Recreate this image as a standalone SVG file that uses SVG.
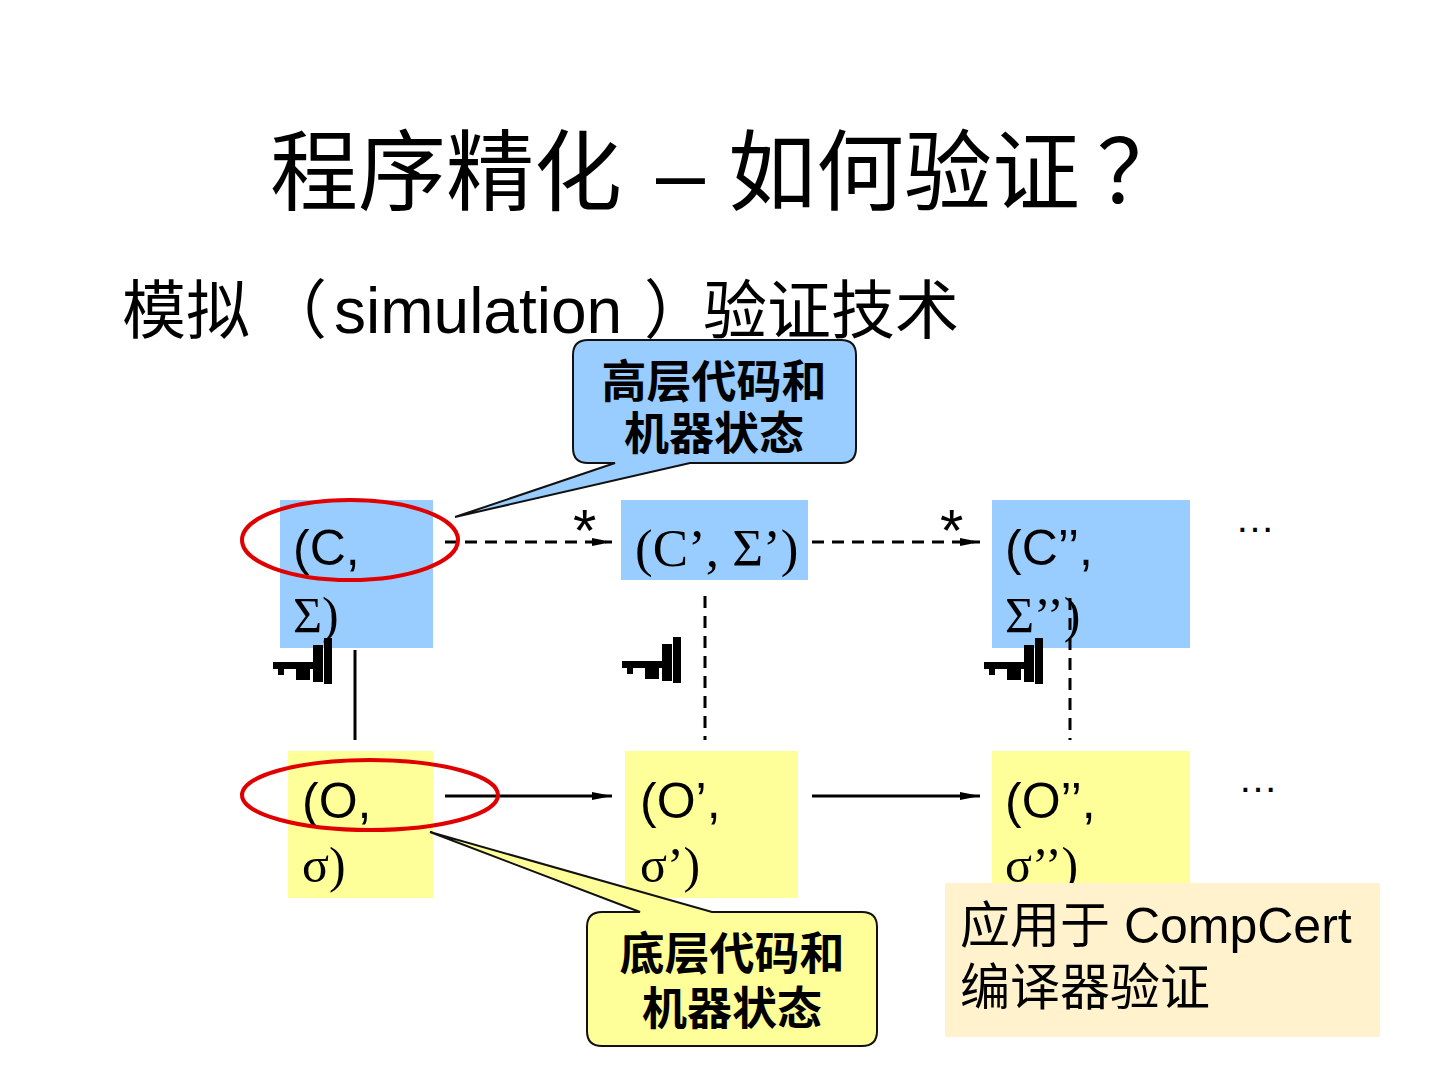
<svg xmlns="http://www.w3.org/2000/svg" width="1440" height="1080" viewBox="0 0 1440 1080">
<style>
.sans{font-family:"Liberation Sans","Noto Sans CJK SC",sans-serif;fill:#000}
.serif{font-family:"Liberation Serif","Noto Sans CJK SC",serif;fill:#000}
.cjk{font-family:"Liberation Sans","Noto Sans CJK SC",sans-serif;fill:#000}
.st{font-size:50px}
.blue{fill:#99CCFF}
.yel{fill:#FFFF99}
.conn{stroke:#000;stroke-width:3;fill:none}
.dash{stroke-dasharray:12 8}
.red{fill:none;stroke:#E00000;stroke-width:4}
.call{font-family:"Liberation Sans","Noto Sans CJK SC",sans-serif;font-weight:bold;font-size:45px;text-anchor:middle;fill:#000}
</style>
<defs>
<marker id="arr2" viewBox="0 0 20 10" refX="20" refY="5" markerWidth="20" markerHeight="10" markerUnits="userSpaceOnUse" orient="auto"><path d="M0,1 L20,5 L0,9 z" fill="#000"/></marker>
<g id="key"><rect x="0" y="24" width="40" height="7"/><rect x="5" y="30" width="6" height="7"/><rect x="23" y="24" width="14" height="18"/><rect x="40" y="7" width="10" height="37"/><rect x="51" y="0" width="8" height="46"/></g>
</defs>
<rect width="1440" height="1080" fill="#fff"/>
<g id="title"><text class="cjk" y="203" font-size="88"><tspan x="270">程序精化</tspan><tspan x="656">–</tspan><tspan x="728">如何验证</tspan><tspan x="1097">？</tspan></text></g>
<g id="subtitle"><text class="cjk" y="333" font-size="64"><tspan x="122">模拟</tspan><tspan x="263">（</tspan><tspan x="334">simulation</tspan><tspan x="644">）</tspan><tspan x="703">验证技术</tspan></text></g>

<g id="n1"><rect class="blue" x="280" y="500" width="153" height="148"/><text class="sans st" x="293" y="565">(C,</text><text class="serif st" x="293" y="632">Σ)</text></g>
<g id="n2"><rect class="blue" x="621" y="500" width="187" height="80"/><text class="serif" font-size="53" x="635" y="566">(C’, Σ’)</text></g>
<g id="n3"><rect class="blue" x="992" y="500" width="198" height="148"/><text class="sans st" x="1005" y="565">(C’’,</text><text class="serif st" x="1005" y="632">Σ’’)</text></g>
<g id="n4"><rect class="yel" x="288" y="751" width="145" height="147"/><text class="sans st" x="302" y="818">(O,</text><text class="serif st" x="302" y="882">σ)</text></g>
<g id="n5"><rect class="yel" x="625" y="751" width="173" height="147"/><text class="sans st" x="640" y="818">(O’,</text><text class="serif st" x="640" y="882">σ’)</text></g>
<g id="n6"><rect class="yel" x="992" y="751" width="198" height="147"/><text class="sans st" x="1005" y="818">(O’’,</text><text class="serif st" x="1005" y="882">σ’’)</text></g>

<g id="connectors">
<line class="conn dash" x1="445" y1="542" x2="612" y2="542" marker-end="url(#arr2)"/>
<line class="conn dash" x1="812" y1="542" x2="980" y2="542" marker-end="url(#arr2)"/>
<line class="conn" x1="445" y1="796" x2="612" y2="796" marker-end="url(#arr2)"/>
<line class="conn" x1="812" y1="796" x2="980" y2="796" marker-end="url(#arr2)"/>
<line class="conn" x1="355" y1="650" x2="355" y2="740"/>
<line class="conn dash" x1="705" y1="596" x2="705" y2="740"/>
<line class="conn dash" x1="1070" y1="598" x2="1070" y2="740"/>
</g>
<g id="stars"><text class="sans" x="573" y="551" font-size="60">*</text><text class="sans" x="940" y="551" font-size="60">*</text></g>
<g id="keys"><use href="#key" x="273" y="638"/><use href="#key" x="622" y="637"/><use href="#key" x="984" y="638"/></g>
<g id="dots"><text class="sans" x="1235" y="532" font-size="40">…</text><text class="sans" x="1238" y="792" font-size="40">…</text></g>

<g id="callout-top"><path d="M588,340 H841 Q856,340 856,355 V448 Q856,463 841,463 H690 L455,517 L615,463 H588 Q573,463 573,448 V355 Q573,340 588,340 Z" fill="#99CCFF" stroke="#111" stroke-width="2"/><text class="call" x="714" y="398">高层代码和</text><text class="call" x="714" y="450">机器状态</text></g>
<g id="callout-bottom"><path d="M602,912 H640 L430,832 L712,912 H862 Q877,912 877,927 V1031 Q877,1046 862,1046 H602 Q587,1046 587,1031 V927 Q587,912 602,912 Z" fill="#FFFF99" stroke="#111" stroke-width="2"/><text class="call" x="732" y="970">底层代码和</text><text class="call" x="732" y="1025">机器状态</text></g>

<g id="ellipses"><ellipse class="red" cx="350" cy="540" rx="108" ry="40"/><ellipse class="red" cx="370" cy="795" rx="128" ry="35"/></g>

<g id="note"><rect x="945" y="883" width="435" height="154" fill="#FFF2CC"/><text class="cjk" x="960" y="943" font-size="50">应用于 CompCert</text><text class="cjk" x="960" y="1005" font-size="50">编译器验证</text></g>
</svg>
